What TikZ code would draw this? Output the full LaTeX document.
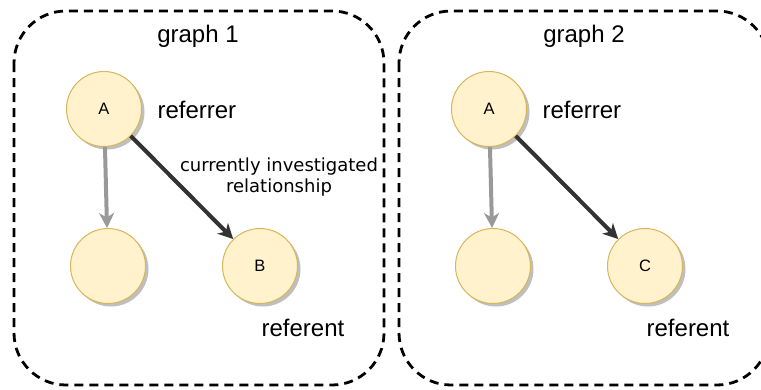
\documentclass[tikz,border=0pt]{standalone}
\usepackage{fontspec}
\setmainfont{Liberation Sans}
\newfontfamily\verdanalike{DejaVu Sans}
\usetikzlibrary{arrows.meta,shadows}
\definecolor{nodefill}{HTML}{FFF2CC}
\definecolor{nodeline}{HTML}{D6B656}
\definecolor{darkedge}{HTML}{333333}
\definecolor{softedge}{HTML}{999999}
\tikzset{
  frame/.style={draw=black, line width=2.8pt, dash pattern=on 9pt off 6pt, rounded corners=52pt},
  entity/.style={circle, minimum size=75pt, inner sep=0pt, fill=nodefill, draw=nodeline,
    line width=1pt, font=\fontsize{16.5}{19}\selectfont,
    drop shadow={shadow xshift=3pt, shadow yshift=-3pt, fill=black!25, opacity=1}},
  title/.style={font=\fontsize{24}{28}\selectfont},
  tag/.style={font=\fontsize{24}{28}\selectfont},
  note/.style={font=\verdanalike\fontsize{18}{21}\selectfont, align=center},
  mainrel/.style={draw=darkedge, line width=4pt,
    -{Stealth[length=15pt, width=15pt, inset=4.5pt]}},
  siderel/.style={draw=softedge, line width=4pt,
    -{Stealth[length=15pt, width=15pt, inset=4.5pt]}}
}
\begin{document}
\begin{tikzpicture}[x=1pt, y=-1pt]
  \useasboundingbox (0,0) rectangle (761,389);

  % graph frames
  \draw[frame] (14,11) rectangle (384,385);
  \draw[frame] (399,11) rectangle (769,385);

  % graph 1
  \node[title] (t1) at (198,36) {graph 1};
  \node[entity] (a1) at (104,109) {A};
  \node[entity] (u1) at (108,266) {};
  \node[entity] (b1) at (260,266) {B};
  \node[tag, anchor=west] (r1) at (154,110) {referrer};
  \node[tag] (f1) at (303,328) {referent};
  \node[note] (n1) at (279,177) {currently investigated\\relationship};
  \draw[siderel] (a1) -- (u1);
  \draw[mainrel] (a1) -- (b1);

  % graph 2
  \node[title] (t2) at (584,36) {graph 2};
  \node[entity] (a2) at (489,109) {A};
  \node[entity] (u2) at (493,266) {};
  \node[entity] (c2) at (645,266) {C};
  \node[tag, anchor=west] (r2) at (539,110) {referrer};
  \node[tag] (f2) at (688,328) {referent};
  \draw[siderel] (a2) -- (u2);
  \draw[mainrel] (a2) -- (c2);
\end{tikzpicture}
\end{document}
